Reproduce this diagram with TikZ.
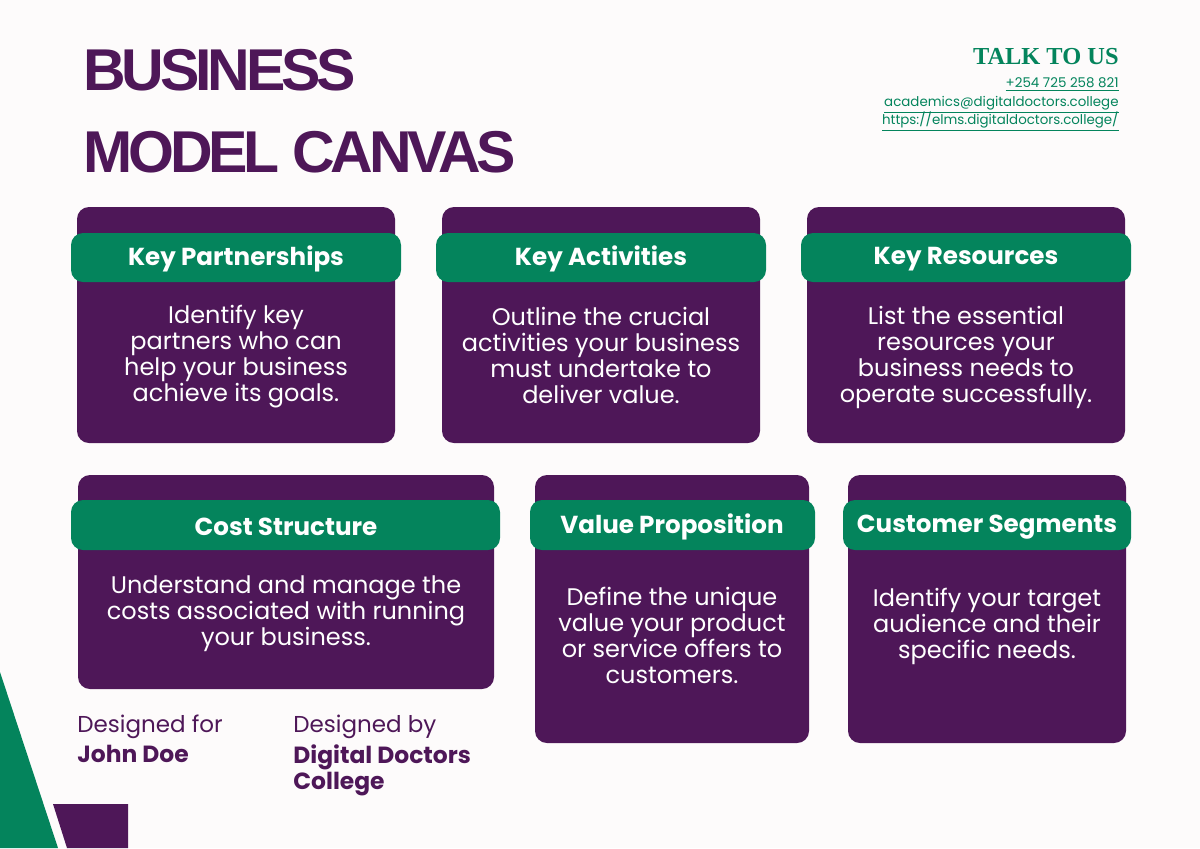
\documentclass[tikz,border=0pt]{standalone}
\usepackage{fontspec}
\setmainfont{Poppins}
\newfontfamily\titlefont{Liberation Sans}
\newfontfamily\talkfont{Liberation Serif}
\definecolor{bmpurple}{HTML}{4E1758}
\definecolor{bmgreen}{HTML}{04845C}
\definecolor{bmbg}{HTML}{FDFBFB}
\begin{document}
\begin{tikzpicture}[x=0.5pt,y=-0.5pt,
  card/.style={fill=bmpurple, rounded corners=6pt},
  band/.style={fill=bmgreen, rounded corners=6pt},
  bandtext/.style={text=white, font=\fontsize{12.3}{13}\selectfont\bfseries, anchor=center},
  bodytext/.style={text=white, font=\fontsize{12}{13}\selectfont, align=center, anchor=center, inner sep=0pt},
  linktext/.style={text=bmgreen, font=\fontsize{6.7}{8}\selectfont, anchor=base east, inner sep=0pt},
  signtext/.style={text=bmpurple, anchor=base west, inner sep=0pt}]
\fill[bmbg] (0,0) rectangle (1200,848);
\useasboundingbox (0,0) rectangle (1200,848);

% title
\node[anchor=base west, inner sep=0pt, text=bmpurple, font=\titlefont\fontsize{29.5}{30}\selectfont\bfseries\addfontfeatures{LetterSpace=-7}] (t1) at (83,90) {BUSINESS};
\node[anchor=base west, inner sep=0pt, text=bmpurple, font=\titlefont\fontsize{29.5}{30}\selectfont\bfseries\addfontfeatures{LetterSpace=-7}] (t2) at (83,172) {MODEL CANVAS};

% contact
\node[anchor=base east, inner sep=0pt, text=bmgreen, font=\talkfont\fontsize{12.2}{14}\selectfont\bfseries] (talk) at (1119,64) {TALK TO US};
\node[linktext] (phone) at (1119,87) {\underline{+254 725 258 821}};
\node[linktext] (mail) at (1119,106) {\underline{academics@digitaldoctors.college}};
\node[linktext] (web) at (1119,124) {\underline{https://elms.digitaldoctors.college/}};

% row 1
\fill[card] (77,207) rectangle (395,443);
\fill[band] (71,233) rectangle (401,282);
\node[bandtext] (h1) at (236,259) {Key Partnerships};
\node[bodytext] (b1) at (236,357) {Identify key\\partners who can\\help your business\\achieve its goals.};

\fill[card] (442,207) rectangle (760,443);
\fill[band] (436,233) rectangle (766,282);
\node[bandtext] (h2) at (601,259) {Key Activities};
\node[bodytext] (b2) at (601,355) {Outline the crucial\\activities your business\\must undertake to\\deliver value.};

\fill[card] (807,207) rectangle (1125,443);
\fill[band] (801,233) rectangle (1131,282);
\node[bandtext] (h3) at (966,259) {Key Resources};
\node[bodytext] (b3) at (966,357) {List the essential\\resources your\\business needs to\\operate successfully.};

% row 2
\fill[card] (78,475) rectangle (494,689);
\fill[band] (71,500) rectangle (500,550);
\node[bandtext] (h4) at (286,527) {Cost Structure};
\node[bodytext] (b4) at (286,614) {Understand and manage the\\costs associated with running\\your business.};

\fill[card] (535,475) rectangle (809,743);
\fill[band] (530,500) rectangle (815,550);
\node[bandtext] (h5) at (672,527) {Value Proposition};
\node[bodytext] (b5) at (672,635) {Define the unique\\value your product\\or service offers to\\customers.};

\fill[card] (848,475) rectangle (1126,743);
\fill[band] (843,500) rectangle (1131,550);
\node[bandtext] (h6) at (987,527) {Customer Segments};
\node[bodytext] (b6) at (987,626) {Identify your target\\audience and their\\specific needs.};

% signatures
\node[signtext, font=\fontsize{11.5}{13}\selectfont] (df) at (77,732) {Designed for};
\node[signtext, font=\fontsize{11.7}{13}\selectfont\bfseries] (jd) at (77,762) {John Doe};
\node[signtext, font=\fontsize{11.5}{13}\selectfont] (db) at (293,732) {Designed by};
\node[signtext, font=\fontsize{11.7}{13}\selectfont\bfseries, align=left, anchor=north west] (ddc) at (293,744) {Digital Doctors\\College};

% decorative corner shapes
\fill[bmgreen] (0,672) -- (58,848) -- (0,848) -- cycle;
\fill[bmpurple] (53,804) -- (128,804) -- (128,848) -- (67,848) -- cycle;
\end{tikzpicture}
\end{document}
